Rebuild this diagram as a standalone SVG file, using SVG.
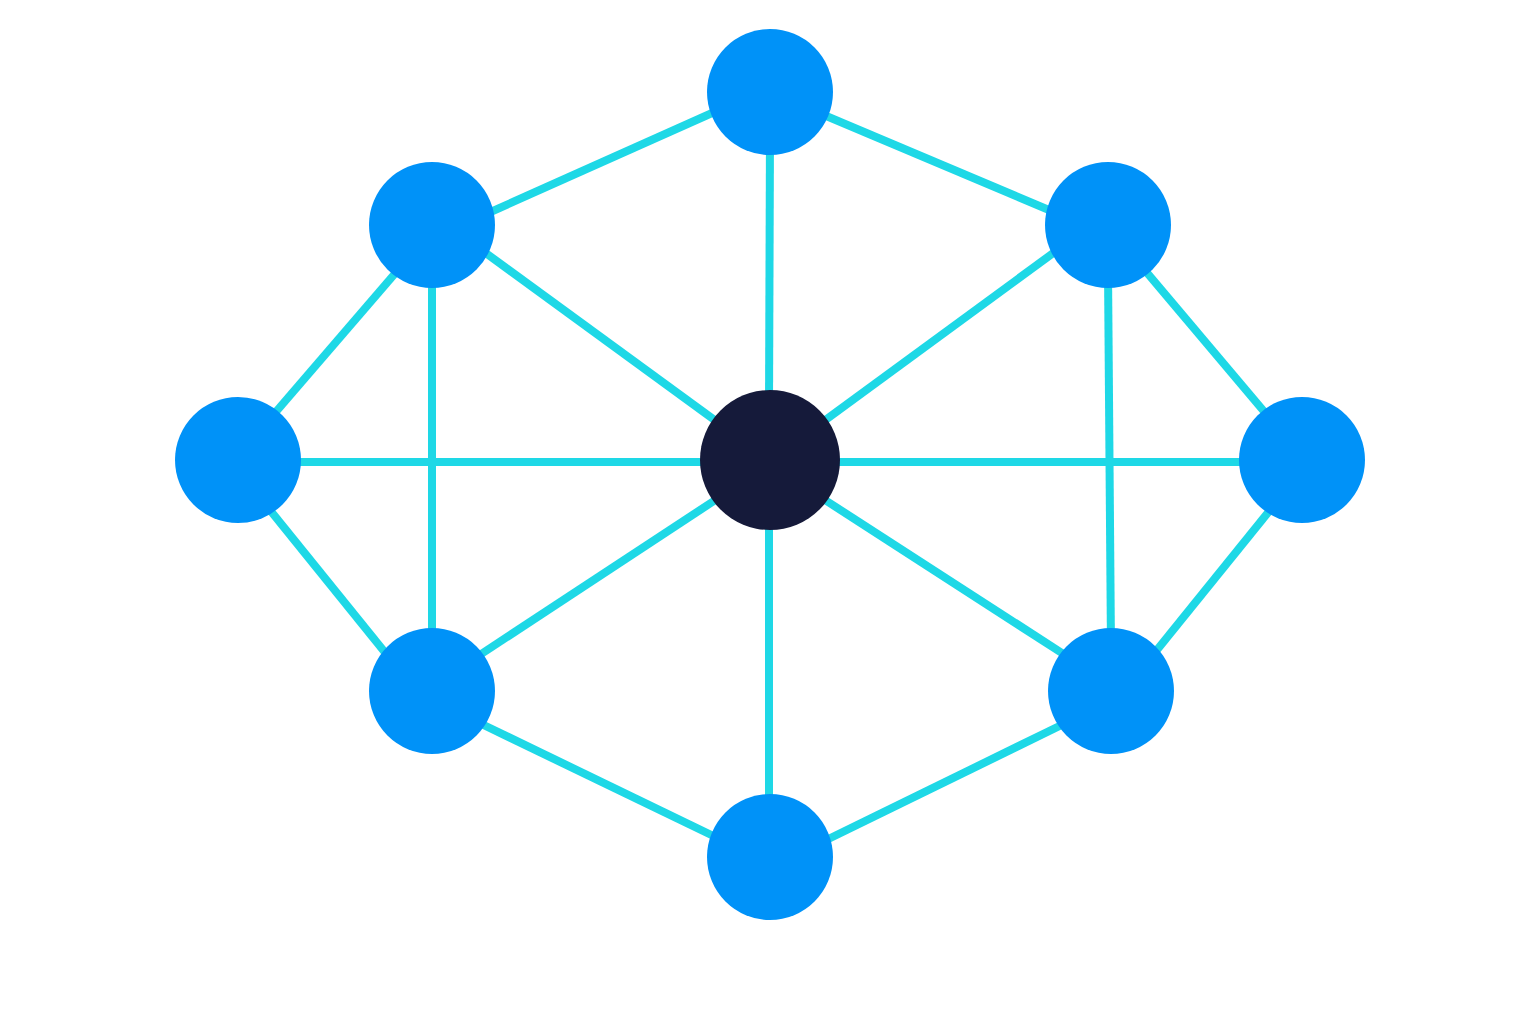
<svg xmlns="http://www.w3.org/2000/svg" width="1536" height="1024" viewBox="0 0 1536 1024">
<style>
.e{stroke:#1ED8E6;stroke-width:8;fill:none}
.n{fill:#0092F8}
.c{fill:#151A3A}
</style>
<rect width="1536" height="1024" fill="#ffffff"/>
<g id="connectors">
<line class="e" x1="477" y1="218" x2="730" y2="105"/>
<line class="e" x1="812" y1="110" x2="1068" y2="218"/>
<line class="e" x1="770" y1="130" x2="769" y2="410"/>
<line class="e" x1="411" y1="255" x2="262" y2="428"/>
<line class="e" x1="432" y1="270" x2="432" y2="650"/>
<line class="e" x1="472" y1="243" x2="731" y2="432"/>
<line class="e" x1="1132" y1="255" x2="1278" y2="428"/>
<line class="e" x1="1108" y1="270" x2="1111" y2="650"/>
<line class="e" x1="1071" y1="240" x2="809" y2="432"/>
<line class="e" x1="280" y1="462" x2="1260" y2="462"/>
<line class="e" x1="257" y1="494" x2="400" y2="671"/>
<line class="e" x1="1283" y1="494" x2="1144" y2="666"/>
<line class="e" x1="463" y1="666" x2="732" y2="489"/>
<line class="e" x1="808" y1="489" x2="1082" y2="666"/>
<line class="e" x1="465" y1="716" x2="730" y2="844"/>
<line class="e" x1="1080" y1="716" x2="812" y2="847"/>
<line class="e" x1="769" y1="510" x2="769" y2="815"/>
</g>
<g id="node-top"><circle class="n" cx="770" cy="92" r="63"/></g>
<g id="node-upper-left"><circle class="n" cx="432" cy="225" r="63"/></g>
<g id="node-upper-right"><circle class="n" cx="1108" cy="225" r="63"/></g>
<g id="node-left"><circle class="n" cx="238" cy="460" r="63"/></g>
<g id="node-right"><circle class="n" cx="1302" cy="460" r="63"/></g>
<g id="node-lower-left"><circle class="n" cx="432" cy="691" r="63"/></g>
<g id="node-lower-right"><circle class="n" cx="1111" cy="691" r="63"/></g>
<g id="node-bottom"><circle class="n" cx="770" cy="857" r="63"/></g>
<g id="node-center"><circle class="c" cx="770" cy="460" r="70"/></g>
</svg>
